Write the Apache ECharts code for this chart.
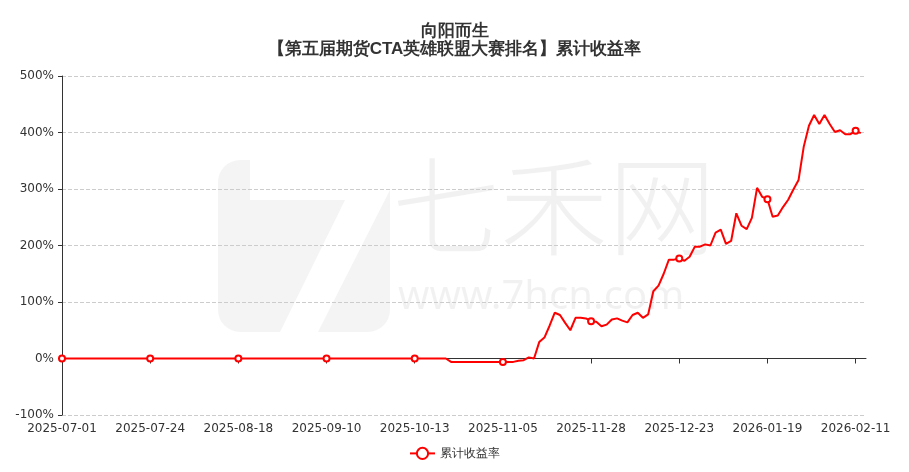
<!DOCTYPE html>
<html><head><meta charset="utf-8">
<script src="https://cdn.jsdelivr.net/npm/echarts@6/dist/echarts.min.js"></script>
<style>html,body{margin:0;padding:0;background:#fff}#c{width:909px;height:472px}</style>
</head><body><div id="c"></div>
<script>
const titleText = '向阳而生';
const subTitleText = '【第五届期货CTA英雄联盟大赛排名】累计收益率';
const seriesName = '累计收益率';
const dates = [
'2025-07-01','2025-07-02','2025-07-03','2025-07-04','2025-07-07','2025-07-08','2025-07-09','2025-07-10','2025-07-11','2025-07-14','2025-07-15','2025-07-16','2025-07-17','2025-07-18','2025-07-21','2025-07-22','2025-07-23','2025-07-24','2025-07-25','2025-07-28','2025-07-29','2025-07-30','2025-07-31',
'2025-08-01','2025-08-04','2025-08-05','2025-08-06','2025-08-07','2025-08-08','2025-08-11','2025-08-12','2025-08-13','2025-08-14','2025-08-15','2025-08-18','2025-08-19','2025-08-20','2025-08-21','2025-08-22','2025-08-25','2025-08-26','2025-08-27','2025-08-28','2025-08-29',
'2025-09-01','2025-09-02','2025-09-03','2025-09-04','2025-09-05','2025-09-08','2025-09-09','2025-09-10','2025-09-11','2025-09-12','2025-09-15','2025-09-16','2025-09-17','2025-09-18','2025-09-19','2025-09-22','2025-09-23','2025-09-24','2025-09-25','2025-09-26','2025-09-29','2025-09-30',
'2025-10-09','2025-10-10','2025-10-13','2025-10-14','2025-10-15','2025-10-16','2025-10-17','2025-10-20','2025-10-21','2025-10-22','2025-10-23','2025-10-24','2025-10-27','2025-10-28','2025-10-29','2025-10-30','2025-10-31',
'2025-11-03','2025-11-04','2025-11-05','2025-11-06','2025-11-07','2025-11-10','2025-11-11','2025-11-12','2025-11-13','2025-11-14','2025-11-17','2025-11-18','2025-11-19','2025-11-20','2025-11-21','2025-11-24','2025-11-25','2025-11-26','2025-11-27','2025-11-28',
'2025-12-01','2025-12-02','2025-12-03','2025-12-04','2025-12-05','2025-12-08','2025-12-09','2025-12-10','2025-12-11','2025-12-12','2025-12-15','2025-12-16','2025-12-17','2025-12-18','2025-12-19','2025-12-22','2025-12-23','2025-12-24','2025-12-25','2025-12-26','2025-12-29','2025-12-30','2025-12-31',
'2026-01-05','2026-01-06','2026-01-07','2026-01-08','2026-01-09','2026-01-12','2026-01-13','2026-01-14','2026-01-15','2026-01-16','2026-01-19','2026-01-20','2026-01-21','2026-01-22','2026-01-23','2026-01-26','2026-01-27','2026-01-28','2026-01-29','2026-01-30',
'2026-02-02','2026-02-03','2026-02-04','2026-02-05','2026-02-06','2026-02-09','2026-02-10','2026-02-11','2026-02-12','2026-02-13'
];
// cumulative return (%), one value per trading day
const returnsJulSep = [
0,0,0,0,0,0,0,0,0,0,0,0,0,0,0,0,0,0,0,0,0,0,0,
0,0,0,0,0,0,0,0,0,0,0,0,0,0,0,0,0,0,0,0,0,
0,0,0,0,0,0,0,0,0,0,0,0,0,0,0,0,0,0,0,0,0,0
];
const returnsOct = [0,0,0,0,0,0,0,0,0,-6,-6,-6,-6,-6,-6,-6,-6];
const returnsNov = [-6,-6,-6,-6,-6,-4,-3,2,0,29,37,58,81,77,63,50,72,72,71];
const returnsDec = [66,65,57,60,69,71,67,64,77,81,72,78,119,129,150,175,175,177,173,180,198,198,202];
const returnsJan = [200,223,228,203,208,257,235,229,249,302,286,282,251,253,268,281,299,316,375,412];
const returnsFeb = [431,415,431,415,401,404,397,397,403,399];
const values = [].concat(returnsJulSep, returnsOct, returnsNov, returnsDec, returnsJan, returnsFeb);
const yTicks = {min: -100, max: 500, interval: 100};

const labelFont = 'DejaVu Sans';
const chart = echarts.init(document.getElementById('c'));
chart.setOption({
  animation: false,
  backgroundColor: '#fff',
  title: {
    text: titleText + '\n' + subTitleText,
    left: 'center', top: 17,
    textStyle: {fontSize: 17, fontWeight: 'bold', color: '#333', lineHeight: 18}
  },
  graphic: [
    {type: 'text', left: 392, top: 152, silent: true, z: -10,
     style: {text: '七禾网', fontSize: 108, fontFamily: 'Noto Sans CJK SC', fontWeight: 300, fill: 'rgba(0,0,0,0.055)'}},
    {type: 'text', left: 398, top: 278, silent: true, z: -10,
     style: {text: 'www.7hcn.com', fontSize: 40, fontFamily: 'Noto Sans', fill: 'rgba(0,0,0,0.055)'}},
    {type: 'rect', left: 218, top: 160, silent: true, z: -10,
     shape: {width: 172, height: 172, r: 22}, style: {fill: 'rgba(0,0,0,0.045)'}},
    {type: 'polygon', silent: true, z: -9,
     shape: {points: [[250,200],[345,200],[280,332],[318,332],[390,190],[390,160],[250,160]]}, style: {fill: '#fff'}}
  ],
  legend: {
    bottom: 7, left: 'center',
    itemWidth: 25, itemHeight: 14,
    textStyle: {fontSize: 12, color: '#333'},
    data: [seriesName]
  },
  grid: {left: 62, right: 43, top: 76, bottom: 57, containLabel: false},
  xAxis: [
    {type: 'category', data: dates, boundaryGap: false, position: 'bottom',
     axisLine: {show: false, onZero: false}, axisTick: {show: false},
     axisLabel: {interval: 16, color: '#333', fontSize: 12, fontFamily: labelFont, margin: 8},
     splitLine: {show: false}},
    {type: 'category', data: dates, boundaryGap: false, position: 'top',
     axisLine: {show: true, onZero: true, lineStyle: {color: '#333'}},
     axisTick: {show: true, inside: true, interval: 16, length: 5, lineStyle: {color: '#333'}},
     axisLabel: {show: false}, splitLine: {show: false}}
  ],
  yAxis: {
    type: 'value', min: yTicks.min, max: yTicks.max, interval: yTicks.interval,
    axisLine: {show: true, lineStyle: {color: '#333'}},
    axisTick: {show: true, length: 4},
    axisLabel: {formatter: '{value}%', color: '#333', fontSize: 12, fontFamily: labelFont},
    splitLine: {show: true, lineStyle: {type: 'dashed', color: '#ccc'}}
  },
  series: [{
    name: seriesName, type: 'line', data: values, xAxisIndex: 0,
    symbol: 'emptyCircle', symbolSize: 6, showAllSymbol: 'auto',
    lineStyle: {color: '#ff0000', width: 2},
    itemStyle: {color: '#ff0000', borderWidth: 1}
  }]
});
</script></body></html>
